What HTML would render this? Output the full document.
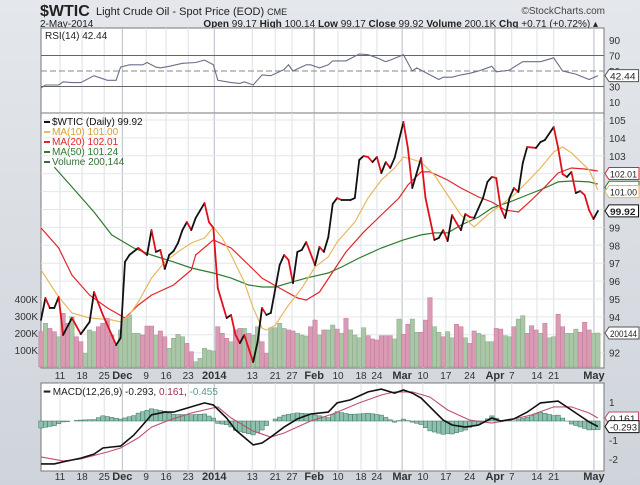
<!DOCTYPE html>
<html><head><meta charset="utf-8"><style>
body{margin:0;background:#d9dde3;}
svg{display:block;font-family:"Liberation Sans",sans-serif;}
</style></head><body>
<svg id="c" width="640" height="485" viewBox="0 0 640 485" xmlns="http://www.w3.org/2000/svg">
<defs><linearGradient id="bg" x1="0" y1="0" x2="0" y2="1"><stop offset="0" stop-color="#e4e7eb"/><stop offset="1" stop-color="#cfd4db"/></linearGradient></defs>
<rect width="640" height="485" fill="url(#bg)"/>
<g>
<text x="40" y="16" font-size="16" font-weight="bold" fill="#222">$WTIC</text>
<text x="96" y="15" font-size="11" fill="#222">Light Crude Oil - Spot Price (EOD) <tspan font-size="9">CME</tspan></text>
<text x="605" y="14" font-size="10" fill="#444" text-anchor="end">©StockCharts.com</text>
<text x="40" y="27" font-size="10" fill="#222">2-May-2014</text>
<text x="598" y="27" font-size="10" fill="#222" text-anchor="end"><tspan font-weight="bold">Open</tspan> 99.17 <tspan font-weight="bold">High</tspan> 100.14 <tspan font-weight="bold">Low</tspan> 99.17 <tspan font-weight="bold">Close</tspan> 99.92 <tspan font-weight="bold">Volume</tspan> 200.1K <tspan font-weight="bold">Chg</tspan> +0.71 (+0.72%) ▴</text>
</g>
<g id="rsiP"></g>
<g id="priceP"></g>
<g id="macdP"></g>
</svg>
<script>
// ---- data ----
const priceDays=[0,1,2,3,4,5,7,9,11,12,14,17,18,19,20,22,24,25,26,27,28,29,30,31,32,33,34,35,37,38,39,40,42,43,44,45,46,48,49,50,51,52,54,55,56,57,58,59,60,62,63,64,65,66,67,68,70,71,72,73,74,75,76,77,78,79,80,82,83,84,85,86,87,89,90,91,92,93,94,95,96,97,98,100,101,102,103,104,105,106,107,108,109,110,112,113,114,116,117,118,119,120,121,122,123,124,125,126];
const closes=[93.83,95.06,94.50,94.50,95.11,92.99,93.94,93.04,93.72,95.39,94.11,92.43,92.82,97.07,97.46,97.85,97.46,98.85,97.63,97.74,96.68,97.46,97.68,98.13,98.85,99.30,98.85,99.53,100.36,99.30,98.97,95.61,93.94,94.11,92.99,92.54,92.99,91.48,92.60,94.50,94.11,94.22,96.90,97.46,97.18,95.89,97.63,97.74,98.18,96.90,97.91,97.63,98.46,100.31,100.64,100.53,100.53,100.64,102.77,102.99,102.93,102.65,102.93,102.04,102.65,102.32,102.88,104.89,103.44,101.20,102.04,102.88,100.64,98.30,98.41,98.85,98.24,99.69,99.25,98.85,99.75,99.58,99.53,100.64,101.54,101.82,101.76,100.08,99.53,100.64,101.20,100.98,102.60,103.49,103.44,103.77,103.88,104.61,103.44,101.98,101.82,102.10,100.92,101.03,100.81,99.97,99.47,99.92];
const ma10Days=[0,4,7,11,16,18,20,22,25,28,31,34,37,39,41,43,46,48,50,51,53,56,59,62,65,67,71,74,77,80,82,83,86,89,92,95,98,101,104,107,110,113,116,118,120,124,126];
const ma10=[96.62,95.11,94.22,93.94,93.83,93.72,94.11,94.83,96.17,97.07,97.63,98.13,98.41,99.02,98.41,97.46,95.95,94.50,93.38,93.27,93.55,94.66,95.61,96.79,97.35,98.18,99.30,100.64,101.65,102.32,102.93,102.88,102.65,101.93,100.81,99.69,99.02,99.69,100.25,100.81,101.54,102.32,103.21,103.49,103.16,102.21,101.09];
const ma20Days=[0,4,7,11,15,19,22,25,30,34,35,39,43,47,50,54,58,60,63,66,69,73,77,81,83,86,88,92,95,99,102,105,108,111,114,117,120,123,126];
const ma20=[98.97,97.85,96.34,95.22,94.50,93.94,94.66,95.22,95.78,96.62,97.46,98.30,97.85,96.90,96.17,95.61,95.06,94.94,95.39,96.51,97.63,98.74,99.69,100.64,101.37,102.10,102.10,101.65,101.20,100.70,100.42,99.97,99.86,100.53,101.26,102.04,102.32,102.26,102.15];
const ma50Days=[3,7,12,16,21,25,30,34,39,43,47,50,53,56,60,65,68,72,77,82,86,89,92,95,99,102,106,110,114,117,120,124,126];
const ma50=[102.37,101.26,99.86,98.58,97.85,97.46,97.07,96.73,96.45,96.17,95.78,95.67,95.67,95.89,96.17,96.45,96.79,97.29,97.85,98.30,98.58,98.69,98.69,99.13,99.58,100.08,100.42,100.81,101.20,101.54,101.59,101.54,101.42];
// volume in thousands, one per trading day
const volume=[208,257,227,208,178,316,257,296,178,149,80,218,208,237,257,286,188,129,218,286,306,198,198,188,241,241,188,212,178,110,169,192,178,139,
90,31,51,110,100,94,237,198,169,149,218,227,227,198,188,237,149,80,231,231,257,227,218,212,198,188,182,237,276,188,218,218,
247,223,198,286,218,188,172,231,184,165,159,184,184,184,165,282,192,251,282,204,204,276,408,237,204,178,208,172,251,237,172,
139,212,198,188,149,149,227,223,184,178,237,282,302,198,243,218,198,257,172,178,310,237,198,198,223,204,263,218,198,200];
const volUp=[0,1,0,0,1,0,0,1,0,0,1,1,1,0,0,0,0,0,1,1,1,1,1,0,0,0,1,0,0,1,1,1,1,0,
0,1,1,1,1,1,0,0,0,1,0,0,1,0,1,1,0,0,1,1,1,1,0,0,1,1,1,0,0,1,0,1,
1,0,1,0,1,1,1,1,0,0,0,0,0,0,1,1,0,0,1,1,0,0,0,1,1,0,1,1,0,0,1,
0,0,1,1,1,1,0,0,1,1,0,1,1,0,0,0,1,0,1,1,0,0,1,1,1,0,0,0,1,1];
const rsiDays=[0,1,4,5,7,9,12,15,17,18,20,23,24,26,27,29,32,35,37,39,40,43,45,46,48,50,52,55,56,57,60,61,63,65,66,69,72,74,76,78,79,82,84,85,88,90,91,93,95,97,99,102,103,106,107,109,113,116,118,121,124,126];
const rsi=[28,32,32,36,35,35,44,38,38,55,58,58,61,55,54,56,60,61,64,58,38,35,34,36,32,45,44,52,58,50,58,58,54,58,63,63,72,71,67,62,64,71,50,54,45,39,42,42,45,47,50,56,49,51,55,62,62,67,50,46,39,44];
const macdDays=[0,3,5,9,12,14,16,18,21,23,25,28,30,33,37,39,42,44,48,50,52,55,58,61,65,67,70,74,77,80,82,84,86,88,91,93,96,99,102,104,107,110,113,117,120,124,126];
const macd=[-2.26,-2.26,-2.15,-1.95,-1.74,-1.42,-1.37,-1.32,-0.74,-0.21,0.32,0.47,0.47,0.68,0.95,0.84,0.16,-0.47,-1.26,-1.16,-0.84,-0.32,0.11,0.37,0.47,0.95,1.11,1.53,1.68,1.47,1.63,1.47,1.21,0.74,0.05,-0.21,-0.32,-0.21,0.16,0,0.11,0.47,0.95,1.05,0.58,-0.05,-0.29];
const signalDays=[0,5,9,15,18,22,25,29,34,40,43,48,52,55,61,66,72,77,80,84,88,92,97,102,106,111,116,120,124,126];
const signal=[-1.89,-2.10,-2.00,-1.63,-1.42,-0.89,-0.32,0.05,0.42,0.74,0.16,-0.53,-0.84,-0.63,0,0.37,0.95,1.37,1.53,1.53,1.26,0.58,0.05,-0.11,0.05,0.32,0.74,0.74,0.42,0.16];
const priceTicks=[92,93,94,95,96,97,98,99,100,101,102,103,104,105];
const priceTickLabels=["92","","94","95","96","97","98","99","","","","103","104","105"];
const volTicks=[100,200,300,400];
const volTickLabels=["100K","200K","300K","400K"];
const rsiTicks=[10,30,50,70,90];
const macdTicks=[-2,-1,1];
const dateLabels=["11","18","25","Dec","9","16","23","2014","13","21","27","Feb","10","18","24","Mar","10","17","24","Apr","7","14","21","May"];
const dateDays=[4.3,9.3,14.3,18.4,23.8,28.3,33.3,39.2,47.8,53,56.8,61.8,67.2,72.4,76,81.7,86.4,91.6,97,102.7,106.5,112.2,116,125.1];
const monthFlags=[0,0,0,1,0,0,0,1,0,0,0,1,0,0,0,1,0,0,0,1,0,0,0,1];

// ---- scales ----
const L=41,R=604;
const xD=d=>41+d*4.42;
const yP=v=>120+(105-v)*17.9;
const yV=k=>367-k*0.17;
const yR=r=>71-(r-50)*0.775;
const yM=m=>421-m*19;
const NS="http://www.w3.org/2000/svg";
function mk(parent,tag,attrs){const e=document.createElementNS(NS,tag);for(const k in attrs)e.setAttribute(k,attrs[k]);parent.appendChild(e);return e;}
function txt(parent,x,y,s,attrs){const e=mk(parent,'text',Object.assign({x:x,y:y},attrs||{}));e.textContent=s;return e;}
function pathOf(days,vals,ys){return days.map((d,i)=>(i?'L':'M')+xD(d).toFixed(1)+','+ys(vals[i]).toFixed(1)).join('');}
function interp(days,vals,d){if(d<=days[0])return vals[0];for(let i=1;i<days.length;i++){if(d<=days[i]){const t=(d-days[i-1])/(days[i]-days[i-1]);return vals[i-1]+t*(vals[i]-vals[i-1]);}}return vals[vals.length-1];}

function panel(g,top,bot,name){
  const r=mk(g,'rect',{x:L,y:top,width:R-L,height:bot-top,fill:'#fff',stroke:'#777','stroke-width':1});
  
  
  dateDays.forEach((d,i)=>{const l=mk(g,'line',{x1:xD(d),x2:xD(d),y1:top,y2:bot,stroke:monthFlags[i]?'#b8bcc6':'#dde0e8','stroke-width':1});
    
    });
}
function dateAxis(g,y){
  dateDays.forEach((d,i)=>{const t=txt(g,xD(d),y,dateLabels[i],{'font-size':monthFlags[i]?11:10,'font-weight':monthFlags[i]?'bold':'normal','text-anchor':'middle',fill:'#333'});
    
    });
}
function tag(g,y,label,color,bold){
  const w=Math.min(label.length*5.1+4,30);
  const p=mk(g,'path',{d:`M605,${y} l4,-6 h${w} v12 h-${w} z`,fill:'#fff',stroke:color,'stroke-width':1});
  
  
  const t=txt(g,610,y+4,label,{'font-size':9.5,fill:'#222','font-weight':bold?'bold':'normal','textLength':Math.min(label.length*5.1,27),'lengthAdjust':'spacingAndGlyphs'});
  
  
}

// ---- RSI panel ----
const rg=document.getElementById('rsiP');
panel(rg,28,113,'rsi');
[30,70].forEach(v=>{const l=mk(rg,'line',{x1:L,x2:R,y1:yR(v),y2:yR(v),stroke:'#666','stroke-width':1});
  
  });
{const l=mk(rg,'line',{x1:L,x2:R,y1:yR(50),y2:yR(50),stroke:'#888','stroke-dasharray':'6,3','stroke-width':1});
 
 }
rsiTicks.forEach(v=>{const t=txt(rg,609,yR(v)+4,String(v),{'font-size':10,fill:'#333'});
  
  });
{const p=mk(rg,'path',{d:pathOf(rsiDays,rsi,yR),fill:'none',stroke:'#6a6f8a','stroke-width':1.1});
 
 }
{const t=txt(rg,45,39,'RSI(14) 42.44',{'font-size':10,fill:'#222'});
 
 }
tag(rg,yR(rsi[rsi.length-1]),'42.44','#555',false);

// ---- Price panel ----
const pg=document.getElementById('priceP');
panel(pg,113,368,'price');
priceTicks.forEach((v,i)=>{const l=mk(pg,'line',{x1:L,x2:R,y1:yP(v),y2:yP(v),stroke:'#e3e6ee','stroke-width':1});
  
  
  if(priceTickLabels[i]){const t=txt(pg,609,yP(v)+4,priceTickLabels[i],{'font-size':10,fill:'#333'});
  
  }});
volTicks.forEach((v,i)=>{const t=txt(pg,38,yV(v)+4,volTickLabels[i],{'font-size':10,fill:'#333','text-anchor':'end'});
  
  });
volume.forEach((v,i)=>{const b=mk(pg,'rect',{x:xD(i)-2.2,y:yV(v),width:4.4,height:367-yV(v),fill:volUp[i]?'#a9c6a6':'#d99ab4',stroke:volUp[i]?'#8aa98a':'#c27898','stroke-width':0.5});
  
  });
[[ma50Days,ma50,'#2f7a2f','ma50-line'],[ma20Days,ma20,'#e0262b','ma20-line'],[ma10Days,ma10,'#e8b860','ma10-line']].forEach(s=>{
  const p=mk(pg,'path',{d:pathOf(s[0],s[1],yP),fill:'none',stroke:s[2],'stroke-width':1.2});
  
  });
for(let i=1;i<closes.length;i++){
  const l=mk(pg,'line',{x1:xD(priceDays[i-1]),y1:yP(closes[i-1]),x2:xD(priceDays[i]),y2:yP(closes[i]),stroke:closes[i]<closes[i-1]?'#e0101a':'#111','stroke-width':1.8,'stroke-linecap':'round'});
  
  
}
const leg=[['$WTIC (Daily) 99.92','#111','#111'],['MA(10) 101.00','#e8b860','#d9a030'],['MA(20) 102.01','#e0262b','#e0262b'],['MA(50) 101.24','#2f7a2f','#2f7a2f'],['Volume 200,144','#3a6b3a','#3a6b3a']];
leg.forEach((e,i)=>{const y=125+i*10;
  const m=mk(pg,'rect',{x:44,y:y-4,width:6,height:2,fill:e[1]});
  
  
  const t=txt(pg,52,y,e[0],{'font-size':10,fill:e[2]});
  
  });
tag(pg,yP(102.01),'102.01','#e0262b',false);
tag(pg,yP(101.24),'101.24','#2f7a2f',false);
tag(pg,yP(101.00),'101.00','#e8b860',false);
tag(pg,yP(closes[closes.length-1]),'99.92','#111',true);
tag(pg,yV(200),'200144','#555',false);
dateAxis(pg,379);

// ---- MACD panel ----
const mg=document.getElementById('macdP');
panel(mg,383,471,'macd');
macdTicks.forEach(v=>{const t=txt(mg,609,yM(v)+4,String(v),{'font-size':10,fill:'#333'});
  
  });
for(let d=0;d<=126;d++){
  const h=interp(macdDays,macd,d)-interp(signalDays,signal,d);
  const y0=yM(0),y1=yM(h);
  const b=mk(mg,'rect',{x:xD(d)-2.2,y:Math.min(y0,y1),width:4.4,height:Math.abs(y1-y0),fill:'#8cc2ad',stroke:'#3f6f60','stroke-width':0.5});
  
  
}
{const p=mk(mg,'path',{d:pathOf(signalDays,signal,yM),fill:'none',stroke:'#c0506a','stroke-width':1.1});
 
 }
{const p=mk(mg,'path',{d:pathOf(macdDays,macd,yM),fill:'none',stroke:'#111','stroke-width':1.6});
 
 }
{const t=txt(mg,44,395,'',{'font-size':10,fill:'#222'});
 
 
 t.innerHTML='<tspan font-weight="bold">━</tspan> MACD(12,26,9) -0.293, <tspan fill="#a0304a">0.161</tspan>, <tspan fill="#5a9a88">-0.455</tspan>';}
tag(mg,yM(0.161),'0.161','#c0506a',false);
tag(mg,yM(-0.293),'-0.293','#111',false);
dateAxis(mg,480);
</script>
</body></html>
